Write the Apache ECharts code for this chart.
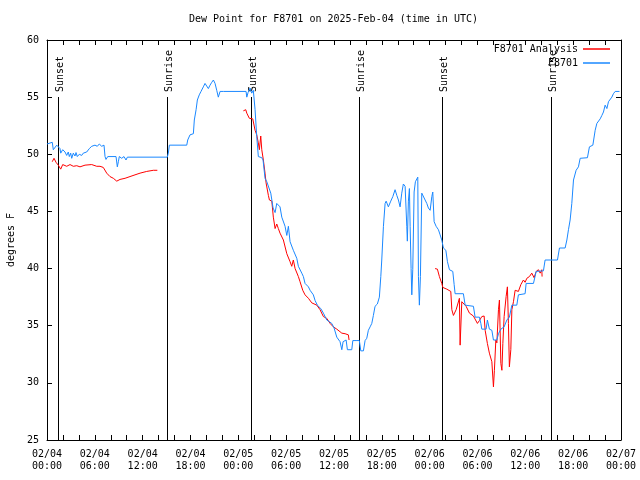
<!DOCTYPE html>
<html>
<head>
<meta charset="utf-8">
<script src="https://cdn.jsdelivr.net/npm/echarts@6/dist/echarts.min.js"></script>
<style>html,body{margin:0;padding:0;background:#fff;}#c{width:640px;height:480px;}</style>
</head>
<body>
<div id="c"></div>
<script>
// x values are hours since 2025-02-04 00:00 UTC
const titleText = 'Dew Point for F8701 on 2025-Feb-04 (time in UTC)';
const yName = 'degrees F';
const startDay = 4;
const xMin = 0, xMax = 72, xTick = 2, xLabelEvery = 6;
const yMin = 25, yMax = 60, yTick = 5;

const sunEventHours = [1.42, 15.09, 25.53, 39.18, 49.6, 63.17];
const sunEventLabels = ['Sunset', 'Sunrise', 'Sunset', 'Sunrise', 'Sunset', 'Sunrise'];
const sunLineTop = 55.0;

const stationData = [
  [0, 50.9], [0.66, 51.05], [0.79, 50.4], [1.0, 50.5], [1.22, 50.8], [1.42, 50.65], [1.63, 50.5], [1.72, 50.1],
  [1.97, 50.4], [2.26, 50.2], [2.47, 49.9], [2.67, 50.2], [2.8, 49.8], [2.97, 50.1], [3.1, 49.65], [3.3, 50.1],
  [3.51, 49.85], [3.64, 50.15], [3.8, 49.8], [4.05, 50.0], [4.35, 49.9], [4.55, 50.1], [4.98, 50.2], [5.31, 50.5],
  [5.61, 50.7], [6.02, 50.8], [6.31, 50.7], [6.56, 50.9], [6.86, 50.7], [7.15, 50.8], [7.28, 49.8], [7.4, 49.55],
  [7.62, 49.8], [8.66, 49.8], [8.82, 48.9], [8.95, 49.35], [9.07, 49.8], [9.37, 49.65], [9.66, 49.8], [9.91, 49.5],
  [10.08, 49.75], [10.33, 49.75], [15.09, 49.75], [15.22, 50.1], [15.35, 50.8], [17.53, 50.8],
  [17.65, 51.25], [17.94, 51.7], [18.36, 51.8], [18.48, 53.0], [18.7, 53.9], [18.86, 54.75], [19.1, 55.2], [19.32, 55.5],
  [19.61, 55.9], [19.82, 56.2], [20.04, 56.05], [20.24, 55.75], [20.45, 56.05], [20.67, 56.3], [20.87, 56.5], [21.08, 56.2],
  [21.29, 55.6], [21.49, 55.0], [21.71, 55.5], [21.92, 55.35], [22.12, 55.5], [22.33, 55.5], [24.97, 55.5], [25.06, 55.0],
  [25.22, 55.4], [25.47, 55.8], [25.68, 55.35], [25.88, 55.6], [26.1, 53.9], [26.31, 51.55], [26.51, 49.8],
  [26.94, 49.7], [27.1, 49.5], [27.35, 47.9], [27.57, 47.6], [28.07, 46.6], [28.36, 45.3], [28.61, 44.9], [28.82, 45.7],
  [28.98, 45.85], [29.23, 45.4], [29.45, 44.5], [29.86, 43.7], [30.08, 42.9], [30.28, 43.7], [30.49, 42.35], [30.9, 41.6],
  [31.33, 40.9], [31.53, 40.2], [31.96, 39.6], [32.16, 39.3], [32.37, 38.7], [32.79, 38.4], [33.0, 38.1], [33.41, 37.7],
  [33.63, 37.2], [33.91, 36.8], [34.34, 36.5], [34.67, 36.1], [35.09, 35.5], [35.72, 35.2], [36.01, 34.8], [36.35, 34.0],
  [36.76, 33.6], [36.98, 32.9], [37.14, 33.6], [37.52, 33.75], [37.68, 32.9], [38.23, 32.9], [38.36, 33.7], [38.77, 33.7],
  [39.18, 33.7], [39.36, 32.8], [39.69, 32.8], [39.9, 33.7], [40.11, 33.9], [40.31, 34.6], [40.53, 34.9], [40.74, 35.2],
  [40.94, 35.9], [41.15, 36.7], [41.44, 36.9], [41.69, 37.5], [41.87, 39.3], [41.99, 40.75], [42.2, 43.7], [42.41, 45.7],
  [42.54, 45.9], [42.82, 45.4], [43.12, 45.9], [43.38, 46.3], [43.66, 46.9], [43.88, 46.4], [44.08, 46.0], [44.29, 45.4],
  [44.5, 46.6], [44.7, 47.4], [44.92, 47.2], [45.13, 43.7], [45.2, 42.4], [45.33, 45.9], [45.46, 47.0], [45.55, 43.7],
  [45.67, 40.0], [45.76, 37.7], [45.88, 39.9], [46.05, 46.7], [46.21, 47.6], [46.39, 47.75], [46.51, 48.0], [46.59, 39.3],
  [46.71, 36.8], [46.84, 39.3], [47.01, 46.6], [47.21, 46.7], [47.43, 46.0], [47.64, 45.7], [47.84, 45.3], [48.06, 45.1],
  [48.27, 46.3], [48.39, 46.7], [48.56, 44.1], [48.81, 43.7], [49.1, 43.4], [49.31, 42.95], [49.52, 42.5], [49.72, 41.8],
  [50.03, 41.6], [50.23, 40.6], [50.48, 39.9], [50.9, 39.75], [51.07, 38.6], [51.19, 37.8], [52.23, 37.8], [52.45, 36.8],
  [52.66, 36.7], [53.49, 36.7], [53.7, 35.75], [54.24, 35.75], [54.42, 35.2], [54.54, 34.7], [55.08, 34.7], [55.24, 35.5],
  [55.49, 34.7], [55.8, 34.6], [56.0, 33.75], [56.43, 33.75], [56.63, 34.3], [56.93, 34.7], [57.34, 34.9], [57.68, 35.5],
  [58.0, 35.75], [58.31, 36.8], [58.93, 36.8], [59.13, 37.7], [59.97, 37.8], [60.1, 38.7], [61.02, 38.7], [61.36, 39.75],
  [62.27, 39.8], [62.48, 40.75], [64.03, 40.75], [64.28, 41.8], [64.99, 41.8], [65.21, 42.5], [65.41, 43.4], [65.62, 44.25],
  [65.83, 45.7], [66.04, 47.75], [66.37, 48.6], [66.66, 48.9], [66.88, 49.65], [67.09, 49.7], [67.79, 49.7], [68.04, 50.65],
  [68.47, 50.8], [68.76, 52.1], [68.97, 52.7], [69.39, 53.1], [69.6, 53.4], [69.8, 53.7], [70.01, 54.3], [70.23, 54.0],
  [70.43, 54.6], [70.64, 54.75], [70.85, 55.0], [71.05, 55.3], [71.27, 55.5], [71.81, 55.5]
];

const analysisDay1 = [
  [0.66, 49.35], [0.88, 49.65], [1.13, 49.3], [1.42, 49.05], [1.72, 48.7], [1.97, 49.1], [2.47, 48.95], [2.89, 49.1],
  [3.3, 48.95], [3.73, 49.0], [4.14, 48.9], [4.77, 49.05], [4.98, 49.2], [5.61, 49.1], [6.24, 48.95], [6.65, 48.95],
  [7.06, 48.85], [7.49, 48.35], [7.9, 48.05], [8.32, 47.9], [8.75, 47.65], [9.16, 47.8], [9.79, 47.9], [10.41, 48.05],
  [11.04, 48.2], [11.67, 48.35], [12.51, 48.5], [13.34, 48.6], [13.84, 48.6]
];
const analysisDay2 = [
  [24.63, 53.8], [24.93, 53.9], [25.06, 53.6], [25.38, 53.15], [25.81, 53.1], [26.1, 52.1], [26.31, 51.7], [26.39, 51.55],
  [26.51, 51.0], [26.64, 50.4], [26.81, 51.6], [26.94, 50.4], [27.14, 49.5], [27.35, 48.35], [27.48, 47.5], [27.77, 46.4],
  [27.9, 46.0], [28.2, 45.9], [28.39, 44.5], [28.61, 43.5], [28.82, 43.9], [29.02, 43.5], [29.23, 43.1], [29.65, 42.5],
  [30.08, 41.3], [30.49, 40.6], [30.7, 40.2], [30.9, 40.75], [31.12, 40.0], [31.53, 39.3], [31.74, 38.85], [32.08, 38.1],
  [32.37, 37.7], [32.79, 37.4], [33.21, 37.0], [33.84, 36.8], [34.25, 36.4], [34.67, 35.8], [35.09, 35.65], [35.51, 35.2],
  [35.92, 34.9], [36.35, 34.7], [36.98, 34.35], [37.39, 34.3], [37.8, 34.2], [37.89, 33.75]
];
const analysisDay3 = [
  [48.68, 40.0], [48.97, 39.95], [49.22, 39.3], [49.52, 38.7], [49.65, 38.35], [50.15, 38.2], [50.65, 38.0], [50.78, 36.4],
  [50.98, 35.9], [51.32, 36.4], [51.73, 37.4], [51.82, 33.3], [51.9, 33.3], [52.03, 37.1], [52.23, 37.0], [52.57, 36.7],
  [52.99, 36.1], [53.49, 35.85], [53.99, 35.2], [54.24, 35.45], [54.54, 35.8], [54.83, 35.85], [54.96, 34.6], [55.24, 33.45],
  [55.49, 32.6], [55.8, 31.85], [56.0, 29.65], [56.12, 31.1], [56.3, 33.75], [56.43, 33.5], [56.63, 36.4], [56.75, 37.25],
  [56.93, 31.7], [57.06, 31.1], [57.18, 33.45], [57.34, 35.8], [57.59, 37.55], [57.75, 38.4], [57.88, 35.2], [58.0, 31.4],
  [58.18, 32.9], [58.31, 36.4], [58.51, 37.1], [58.72, 38.1], [58.93, 38.1], [59.13, 38.0], [59.44, 38.6], [59.76, 39.0],
  [59.97, 38.8], [60.19, 39.15], [60.51, 39.3], [60.81, 39.6], [61.1, 39.2], [61.36, 39.75], [61.64, 39.9], [61.86, 39.6],
  [62.07, 39.9], [62.1, 39.3]
];

const FONT = 'DejaVu Sans Mono';
const RED = '#ff0000';
const BLUE = '#1a88ff';
const pad = n => (n < 10 ? '0' : '') + n;

function xLabel(v) {
  if (v % xLabelEvery !== 0) return '';
  const day = startDay + Math.floor(v / 24);
  const hh = v % 24;
  return '02/' + pad(day) + '\n' + pad(hh) + ':00';
}

const chart = echarts.init(document.getElementById('c'), null, {renderer: 'canvas'});

const axisCommon = {
  axisLine: {show: true, onZero: false, lineStyle: {color: '#000', width: 1}},
  axisTick: {show: true, inside: true, length: 5, lineStyle: {color: '#000'}},
  splitLine: {show: false}
};

const sunData = sunEventHours.map(h => [h, yMin]);

function analysisSeries(data) {
  return {
    name: 'F8701 Analysis', type: 'line', data: data, showSymbol: false, symbol: 'none',
    lineStyle: {color: RED, width: 1}, itemStyle: {color: RED}, animation: false, z: 3
  };
}

chart.setOption({
  animation: false,
  backgroundColor: '#fff',
  textStyle: {fontFamily: FONT},
  title: {
    text: titleText, left: 189, top: 14, padding: 0,
    textStyle: {fontFamily: FONT, fontSize: 10, fontWeight: 'normal', color: '#000'}
  },
  legend: {
    orient: 'vertical', align: 'right', right: 30, top: 43, itemGap: 2, padding: 0,
    itemWidth: 27, itemHeight: 1.5, icon: 'rect',
    textStyle: {fontFamily: FONT, fontSize: 10, color: '#000', lineHeight: 12},
    data: ['F8701 Analysis', 'F8701']
  },
  grid: {left: 47, right: 19, top: 40, bottom: 40, containLabel: false, outerBoundsMode: 'none'},
  xAxis: [
    Object.assign({}, axisCommon, {
      type: 'value', min: xMin, max: xMax, interval: xTick, position: 'bottom',
      axisLabel: {formatter: xLabel, fontFamily: FONT, fontSize: 10, color: '#000', lineHeight: 12, margin: 8,
        showMinLabel: true, showMaxLabel: true, hideOverlap: false}
    }),
    Object.assign({}, axisCommon, {
      type: 'value', min: xMin, max: xMax, interval: xTick, position: 'top',
      axisLabel: {show: false}
    })
  ],
  yAxis: [
    Object.assign({}, axisCommon, {
      type: 'value', min: yMin, max: yMax, interval: yTick, position: 'left',
      name: yName, nameLocation: 'middle', nameGap: 31, nameRotate: 90,
      nameTextStyle: {fontFamily: FONT, fontSize: 10, color: '#000'},
      axisLabel: {fontFamily: FONT, fontSize: 10, color: '#000', margin: 8}
    }),
    Object.assign({}, axisCommon, {
      type: 'value', min: yMin, max: yMax, interval: yTick, position: 'right',
      axisLabel: {show: false}
    })
  ],
  series: [
    {
      type: 'custom', name: 'sun', data: sunData, encode: {x: 0, y: 1}, z: 1, silent: true,
      renderItem: function (params, api) {
        const h = api.value(0);
        const top = api.coord([h, sunLineTop]);
        const bot = api.coord([h, yMin]);
        const x = Math.round(top[0]) + 0.5;
        return {
          type: 'group',
          children: [
            {type: 'line', shape: {x1: x, y1: bot[1], x2: x, y2: Math.round(top[1])},
              style: {stroke: '#000', lineWidth: 1}},
            {type: 'text', x: x + 1.5, y: Math.round(top[1]) - 5, rotation: Math.PI / 2,
              style: {text: sunEventLabels[params.dataIndex], fontFamily: FONT, fontSize: 10,
                fill: '#000', align: 'left', verticalAlign: 'middle'}}
          ]
        };
      }
    },
    analysisSeries(analysisDay1),
    analysisSeries(analysisDay2),
    analysisSeries(analysisDay3),
    {
      name: 'F8701', type: 'line', data: stationData, showSymbol: false, symbol: 'none',
      lineStyle: {color: BLUE, width: 1}, itemStyle: {color: BLUE}, z: 4
    }
  ]
});
</script>
</body>
</html>
